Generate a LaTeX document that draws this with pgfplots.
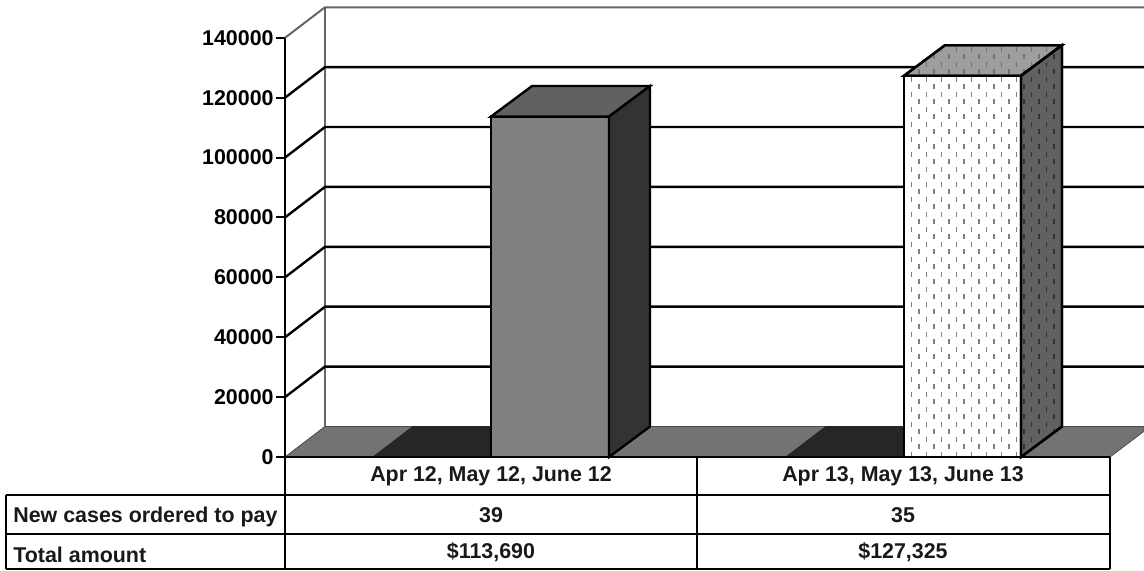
\documentclass[border=0pt]{standalone}
\usepackage{fontspec}
\setmainfont{Liberation Sans}
\usepackage{pgfplots}
\pgfplotsset{compat=1.18}
\usetikzlibrary{patterns}

% staggered short vertical dashes, as on the second bar
\pgfdeclarepatternformonly{vdash}{\pgfqpoint{-1pt}{-1pt}}{\pgfqpoint{8.5pt}{8.5pt}}{\pgfqpoint{7.5pt}{7.5pt}}{
  \pgfsetlinewidth{0.7pt}
  \pgfpathmoveto{\pgfqpoint{1.9pt}{0.5pt}}
  \pgfpathlineto{\pgfqpoint{1.9pt}{3.0pt}}
  \pgfpathmoveto{\pgfqpoint{5.6pt}{4.2pt}}
  \pgfpathlineto{\pgfqpoint{5.6pt}{6.7pt}}
  \pgfusepath{stroke}
}

\begin{document}
\begin{tikzpicture}[line join=miter]
\path[use as bounding box] (-142.5pt,-56.5pt) rectangle (429.5pt,228.5pt);
\begin{axis}[
    scale only axis,
    width=429.5pt,
    height=209.6pt,
    xmin=285, xmax=1144,
    ymin=0, ymax=140000,
    clip=false,
    axis x line=none,
    axis y line=left,
    y axis line style={-, line width=1.2pt},
    ytick={0,20000,40000,60000,80000,100000,120000,140000},
    yticklabel style={
        font=\bfseries\fontsize{10.7}{12}\selectfont,
        /pgf/number format/assume math mode=true,
        /pgf/number format/1000 sep={},
        /pgf/number format/fixed,
        inner xsep=1pt
    },
    scaled y ticks=false,
    tick style={black, line width=1pt},
    major tick length=4.5pt,
    tick align=outside,
]
% back wall
\addplot[gray!80!black, line width=1pt] coordinates {(285,140000) (325,150200) (1144,150200)};
\addplot[gray!80!black, line width=1pt] coordinates {(325,10200) (325,150200)};

% grid lines, side wall then back wall
\addplot[black, line width=1.2pt] coordinates {(285,120000) (325,130200) (1144,130200)};
\addplot[black, line width=1.2pt] coordinates {(285,100000) (325,110200) (1144,110200)};
\addplot[black, line width=1.2pt] coordinates {(285,80000) (325,90200) (1144,90200)};
\addplot[black, line width=1.2pt] coordinates {(285,60000) (325,70200) (1144,70200)};
\addplot[black, line width=1.2pt] coordinates {(285,40000) (325,50200) (1144,50200)};
\addplot[black, line width=1.2pt] coordinates {(285,20000) (325,30200) (1144,30200)};

% floor
\addplot[draw=black!70, line width=0.4pt, fill=black!55] coordinates {(285,0) (325,10200) (413,10200) (373,0)} -- cycle;
\addplot[draw=black!70, line width=0.4pt, fill=black!55] coordinates {(609,0) (650,10200) (826,10200) (786,0)} -- cycle;
\addplot[draw=black!70, line width=0.4pt, fill=black!55] coordinates {(1021,0) (1062,10200) (1144,10200) (1144,8600) (1110,0)} -- cycle;
\addplot[draw=black!85, line width=0.4pt, fill=black!85] coordinates {(373,0) (413,10200) (491,10200) (491,0)} -- cycle;
\addplot[draw=black!85, line width=0.4pt, fill=black!85] coordinates {(786,0) (826,10200) (904,10200) (904,0)} -- cycle;

% bar 1
\addplot[draw=black, line width=1.2pt, fill=black!50] coordinates {(491,0) (491,113690) (609,113690) (609,0)} -- cycle;
\addplot[draw=black, line width=1.2pt, fill=black!62] coordinates {(491,113690) (532,123890) (650,123890) (609,113690)} -- cycle;
\addplot[draw=black, line width=1.2pt, fill=black!80] coordinates {(609,0) (650,10200) (650,123890) (609,113690)} -- cycle;

% bar 2
\addplot[draw=black, line width=1.2pt, fill=white, postaction={pattern=vdash, pattern color=black!50}] coordinates {(904,0) (904,127325) (1021,127325) (1021,0)} -- cycle;
\addplot[draw=black, line width=1.2pt, fill=black!38, postaction={pattern=vdash, pattern color=black!55}] coordinates {(904,127325) (945,137525) (1062,137525) (1021,127325)} -- cycle;
\addplot[draw=black, line width=1.2pt, fill=black!62, postaction={pattern=vdash, pattern color=black!80}] coordinates {(1021,0) (1062,10200) (1062,137525) (1021,127325)} -- cycle;

% table rules
\addplot[black, line width=1.2pt] coordinates {(285,0) (1110,0)};
\addplot[black, line width=1.2pt] coordinates {(6,-12700) (1110,-12700)};
\addplot[black, line width=1.2pt] coordinates {(6,-25700) (1110,-25700)};
\addplot[black, line width=1.2pt] coordinates {(6,-37400) (1110,-37400)};
\addplot[black, line width=1.2pt] coordinates {(6,-12700) (6,-37400)};
\addplot[black, line width=1.2pt] coordinates {(285,0) (285,-37400)};
\addplot[black, line width=1.2pt] coordinates {(697,0) (697,-37400)};
\addplot[black, line width=1.2pt] coordinates {(1110,0) (1110,-37400)};

% table text
\tikzset{cell/.style={font=\bfseries\fontsize{10.7}{12}\selectfont, inner sep=0pt, text=black!90}}
\node[cell] at (axis cs:491,-6400) {Apr 12, May 12, June 12};
\node[cell] at (axis cs:903,-6400) {Apr 13, May 13, June 13};
\node[cell] at (axis cs:491,-19300) {39};
\node[cell] at (axis cs:903,-19300) {35};
\node[cell] at (axis cs:491,-31800) {\$113,690};
\node[cell] at (axis cs:903,-31800) {\$127,325};
\node[cell, anchor=west] at (axis cs:13,-20000) {New cases ordered to pay};
\node[cell, anchor=west] at (axis cs:13,-32600) {Total amount};
\end{axis}
\end{tikzpicture}
\end{document}
